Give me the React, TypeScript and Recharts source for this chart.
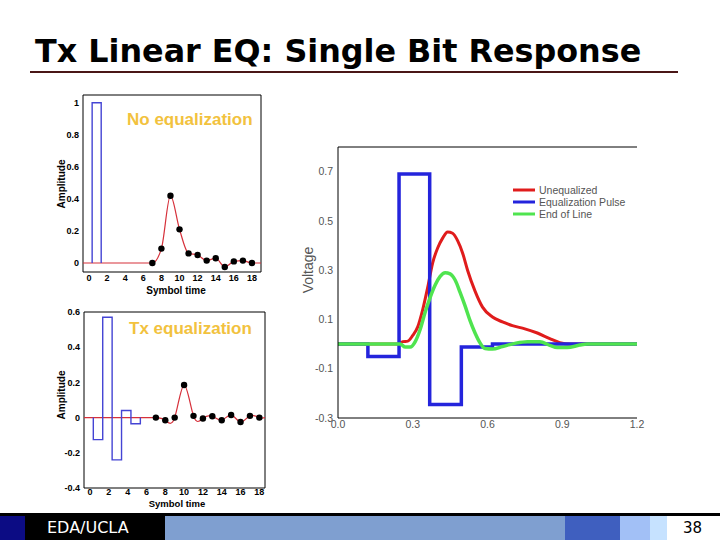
import { ComposedChart, Line, XAxis, YAxis, ReferenceArea, ReferenceLine, Legend } from "recharts";

// symbol-spaced panels (left)
const symbolTimes = [7, 8, 9, 10, 11, 12, 13, 14, 15, 16, 17, 18];
const samplesNoEq = [0, 0.09, 0.42, 0.21, 0.06, 0.05, 0.015, 0.03, -0.025, 0.01, 0.015, 0];
const samplesTxEq = [0, -0.015, 0, 0.185, 0.01, -0.005, 0.008, -0.015, 0.015, -0.025, 0.01, 0];
const quietTimes = [0, 1, 2, 3, 4, 5, 6];
const pulseEdges = [0.35, 1.35, 2.35, 3.35, 4.35, 5.35];
const pulseNoEq = [1];
const pulseTxEq = [-0.125, 0.57, -0.24, 0.04, -0.035];

const symbolTicks = [0, 2, 4, 6, 8, 10, 12, 14, 16, 18];
const ampTicksNoEq = [0, 0.2, 0.4, 0.6, 0.8, 1];
const ampTicksTxEq = [-0.4, -0.2, 0, 0.2, 0.4, 0.6];

// continuous-time panel (right)
const seriesNames = ["Unequalized", "Equalization Pulse", "End of Line"];
const unequalizedTime = [0, 0.24, 0.26, 0.28, 0.3, 0.32, 0.34, 0.36, 0.38, 0.4, 0.42, 0.44, 0.46, 0.48, 0.5, 0.52, 0.55, 0.58, 0.62, 0.66, 0.7, 0.75, 0.8, 0.85, 0.89, 0.93, 1.2];
const unequalizedVolts = [0, 0, 0.01, 0.012, 0.035, 0.07, 0.14, 0.23, 0.33, 0.39, 0.43, 0.455, 0.45, 0.42, 0.37, 0.3, 0.215, 0.15, 0.11, 0.09, 0.075, 0.062, 0.045, 0.022, 0.006, 0, 0];
const eqPulseEdges = [0, 0.12, 0.245, 0.368, 0.495, 0.62, 1.2];
const eqPulseLevels = [0, -0.05, 0.69, -0.245, -0.012, 0];
const endOfLineTime = [0, 0.25, 0.27, 0.29, 0.31, 0.33, 0.35, 0.37, 0.39, 0.41, 0.43, 0.45, 0.47, 0.49, 0.51, 0.53, 0.55, 0.57, 0.59, 0.62, 0.66, 0.71, 0.76, 0.81, 0.85, 0.88, 0.92, 0.97, 1.0, 1.2];
const endOfLineVolts = [0, 0, -0.012, -0.012, 0.01, 0.06, 0.13, 0.19, 0.24, 0.275, 0.29, 0.285, 0.26, 0.21, 0.155, 0.095, 0.045, 0.005, -0.018, -0.02, -0.01, 0.003, 0.01, 0.01, -0.005, -0.014, -0.014, -0.004, 0, 0];

const timeTicks = [0, 0.3, 0.6, 0.9, 1.2];
const timeMinorTicks = [0.15, 0.3, 0.45, 0.6, 0.75, 0.9, 1.05];
const voltTicks = [-0.3, -0.1, 0.1, 0.3, 0.5, 0.7];
const voltEdgeTicks = [0.4, 0.5, 0.6, 0.7];

const toPoints = (xs: number[], ys: number[]) => xs.map((x, i) => ({ x, y: ys[i] }));
const pulseSteps = (edges: number[], levels: number[]) => [
  { x: edges[0], y: 0 },
  ...levels.map((y, i) => ({ x: edges[i], y })),
  { x: edges[levels.length], y: 0 },
];

const SANS = "'Liberation Sans', Arial, sans-serif";
const NARROW = "'Liberation Sans Narrow', 'Liberation Sans', Arial, sans-serif";
const VERDANA = "'DejaVu Sans', Verdana, sans-serif";
const boldTick = { fontSize: 9, fontWeight: 700, fill: "#000", fontFamily: SANS };
const grayTick = { fontSize: 10.5, fill: "#555", fontFamily: NARROW };

function SymbolPanel({ xDomain, yDomain, yTicks, samples, pulse, curve, xTickGap }: any) {
  const response = [
    { x: xDomain[0], y: 0 },
    ...quietTimes.map((x) => ({ x, y: 0 })),
    ...toPoints(symbolTimes, samples),
    { x: xDomain[1], y: 0 },
  ];
  return (
    <>
      <XAxis dataKey="x" type="number" domain={xDomain} ticks={symbolTicks} height={20} tickSize={0} tickMargin={xTickGap}
        axisLine={false} tickLine={false} tick={boldTick} allowDataOverflow />
      <YAxis type="number" domain={yDomain} ticks={yTicks} width={44} tickSize={0} tickMargin={4}
        axisLine={false} tickLine={false} tick={boldTick} allowDataOverflow />
      <YAxis yAxisId="edge" orientation="right" mirror type="number" domain={yDomain} ticks={yTicks} width={0}
        tickSize={3} axisLine={false} tickLine={{ stroke: "#000" }} tickFormatter={() => ""} />
      <Line data={response} dataKey="y" type={curve} stroke="#d6303a" strokeWidth={1.2} dot={false} isAnimationActive={false} />
      <Line data={pulseSteps(pulseEdges, pulse)} dataKey="y" type="stepAfter" stroke="#4444d4" strokeWidth={1.4} dot={false} isAnimationActive={false} />
      <Line data={toPoints(symbolTimes, samples)} dataKey="y" stroke="none" dot={{ r: 3.2, fill: "#000", stroke: "none" }} isAnimationActive={false} />
      <ReferenceArea x1={xDomain[0]} x2={xDomain[1]} y1={yDomain[0]} y2={yDomain[1]} fill="none" stroke="#000" strokeWidth={1} ifOverflow="visible" />
    </>
  );
}

function VoltageLegend({ payload }: any) {
  const items = [...(payload ?? [])].sort((a: any, b: any) => seriesNames.indexOf(a.value) - seriesNames.indexOf(b.value));
  return (
    <div style={{ fontFamily: SANS, fontSize: 10.5, color: "#555" }}>
      {items.map((item: any) => (
        <div key={item.value} style={{ display: "flex", alignItems: "center", height: 12 }}>
          <svg width={22} height={4} style={{ marginRight: 4 }}>
            <line x1={0} y1={2} x2={22} y2={2} stroke={item.color} strokeWidth={3} />
          </svg>
          <span>{item.value}</span>
        </div>
      ))}
    </div>
  );
}

const abs = (style: any) => ({ position: "absolute" as const, whiteSpace: "nowrap" as const, ...style });
const rotated = (x: number, y: number, style: any) =>
  abs({ left: x, top: y, transform: "translate(-50%, -50%) rotate(-90deg)", ...style });

export default function App() {
  const noEqX = [-0.66, 19];
  const noEqY = [-0.056, 1.048];
  const txEqX = [-0.64, 18.6];
  const txEqY = [-0.4, 0.6];
  const voltY = [-0.3, 0.8];

  return (
    <div style={{ position: "absolute", left: 0, top: 0, width: 720, height: 540, overflow: "hidden", background: "#fff", fontFamily: SANS }}>
      <div style={abs({ left: 35, top: 35, fontFamily: VERDANA, fontWeight: 700, fontSize: 31.8, lineHeight: "32px", color: "#000" })}>
        Tx Linear EQ: Single Bit Response
      </div>
      <div style={abs({ left: 30, top: 71, width: 648, height: 2, background: "#4a1616" })} />

      {/* No equalization */}
      <div style={abs({ left: 39, top: 85 })}>
        <ComposedChart width={231} height={215} margin={{ top: 10, right: 9, bottom: 8, left: 0 }}>
          {SymbolPanel({ xDomain: noEqX, yDomain: noEqY, yTicks: ampTicksNoEq, samples: samplesNoEq, pulse: pulseNoEq, curve: "monotone", xTickGap: 3 })}
        </ComposedChart>
      </div>
      <div style={abs({ left: 127, top: 111, color: "#f2c23e", fontWeight: 700, fontSize: 17, lineHeight: "17px" })}>No equalization</div>
      <div style={rotated(61, 184, { fontWeight: 700, fontSize: 10 })}>Amplitude</div>
      <div style={abs({ left: 176, top: 290, transform: "translate(-50%, -50%)", fontWeight: 700, fontSize: 10 })}>Symbol time</div>

      {/* Tx equalization */}
      <div style={abs({ left: 40, top: 302 })}>
        <ComposedChart width={232} height={206} margin={{ top: 10, right: 7, bottom: 0, left: 0 }}>
          {SymbolPanel({ xDomain: txEqX, yDomain: txEqY, yTicks: ampTicksTxEq, samples: samplesTxEq, pulse: pulseTxEq, curve: "natural", xTickGap: 1 })}
        </ComposedChart>
      </div>
      <div style={abs({ left: 129, top: 320, color: "#f2c23e", fontWeight: 700, fontSize: 17, lineHeight: "17px" })}>Tx equalization</div>
      <div style={rotated(61, 395, { fontWeight: 700, fontSize: 10 })}>Amplitude</div>
      <div style={abs({ left: 177, top: 504, transform: "translate(-50%, -50%)", fontWeight: 700, fontSize: 9.5, lineHeight: "10px" })}>Symbol time</div>

      {/* Voltage vs time */}
      <div style={abs({ left: 295, top: 137 })}>
        <ComposedChart width={350} height={300} margin={{ top: 10, right: 8, bottom: 0, left: 0 }}>
          <XAxis xAxisId="minor" type="number" domain={[0, 1.2]} ticks={timeMinorTicks} height={0} mirror
            axisLine={false} tickSize={4} tickLine={{ stroke: "#000" }} tickFormatter={() => ""} />
          <XAxis dataKey="x" type="number" domain={[0, 1.2]} ticks={timeTicks} height={19} tickSize={0} tickMargin={3}
            axisLine={{ stroke: "#000" }} tickLine={false} tick={grayTick} tickFormatter={(v: number) => v.toFixed(1)} />
          <YAxis yAxisId="minor" type="number" domain={voltY} ticks={voltEdgeTicks} width={0} mirror
            axisLine={false} tickSize={4} tickLine={{ stroke: "#000" }} tickFormatter={() => ""} />
          <YAxis type="number" domain={voltY} ticks={voltTicks} width={43} tickSize={0} tickMargin={5}
            axisLine={{ stroke: "#000" }} tickLine={false} tick={grayTick} tickFormatter={(v: number) => v.toFixed(1)} />
          <YAxis yAxisId="edge" orientation="right" mirror type="number" domain={voltY} ticks={voltEdgeTicks} width={0}
            axisLine={false} tickSize={8} tickLine={{ stroke: "#000", strokeWidth: 2 }} tickFormatter={() => ""} />
          <ReferenceLine y={voltY[1]} stroke="#000" strokeWidth={1} ifOverflow="visible" />
          <Line name={seriesNames[0]} data={toPoints(unequalizedTime, unequalizedVolts)} dataKey="y" type="monotone"
            stroke="#e01c1c" strokeWidth={3} dot={false} isAnimationActive={false} />
          <Line name={seriesNames[1]} data={pulseSteps(eqPulseEdges, eqPulseLevels)} dataKey="y" type="stepAfter"
            stroke="#2424dc" strokeWidth={3.5} dot={false} isAnimationActive={false} />
          <Line name={seriesNames[2]} data={toPoints(endOfLineTime, endOfLineVolts)} dataKey="y" type="monotone"
            stroke="#4fe44f" strokeWidth={3.5} dot={false} isAnimationActive={false} />
          <Legend content={VoltageLegend} layout="vertical" align="center" verticalAlign="middle"
            wrapperStyle={{ left: 218, top: 47, width: 130 }} />
        </ComposedChart>
      </div>
      <div style={rotated(308, 270, { fontSize: 14, color: "#555" })}>Voltage</div>

      {/* footer */}
      <div style={abs({ left: 0, top: 513, width: 720, height: 3, background: "#000" })} />
      <div style={abs({ left: 0, top: 516, width: 25, height: 24, background: "#0c0c84" })} />
      <div style={abs({ left: 25, top: 516, width: 140, height: 24, background: "#000" })} />
      <div style={abs({ left: 165, top: 516, width: 400, height: 24, background: "#7f9fd0" })} />
      <div style={abs({ left: 565, top: 516, width: 55, height: 24, background: "#3f5fbf" })} />
      <div style={abs({ left: 620, top: 516, width: 30, height: 24, background: "#a2c0f6" })} />
      <div style={abs({ left: 650, top: 516, width: 17, height: 24, background: "#c6e2ff" })} />
      <div style={abs({ left: 47, top: 519, color: "#fff", fontFamily: VERDANA, fontSize: 16, lineHeight: "18px" })}>EDA/UCLA</div>
      <div style={abs({ left: 683, top: 519, color: "#000", fontFamily: VERDANA, fontSize: 15, lineHeight: "18px" })}>38</div>
    </div>
  );
}
